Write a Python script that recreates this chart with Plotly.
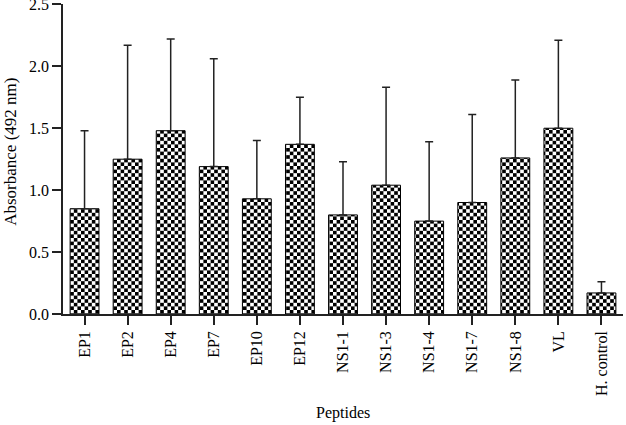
import plotly.graph_objects as go

categories = ["EP1", "EP2", "EP4", "EP7", "EP10", "EP12", "NS1-1", "NS1-3",
              "NS1-4", "NS1-7", "NS1-8", "VL", "H. control"]
means = [0.85, 1.25, 1.48, 1.19, 0.93, 1.37, 0.80, 1.04, 0.75, 0.90, 1.26, 1.50, 0.17]
err_tops = [1.48, 2.17, 2.22, 2.06, 1.40, 1.75, 1.23, 1.83, 1.39, 1.61, 1.89, 2.21, 0.26]
errors = [t - m for t, m in zip(err_tops, means)]
y_ticks = [0.0, 0.5, 1.0, 1.5, 2.0, 2.5]

font = "Liberation Serif, Times New Roman, serif"

fig = go.Figure(go.Bar(
    x=categories,
    y=means,
    marker=dict(
        color="white",
        line=dict(color="black", width=1),
        pattern=dict(shape=".", fgcolor="black", bgcolor="white", size=7, solidity=0.5),
    ),
    error_y=dict(type="data", array=errors, arrayminus=[0] * len(errors),
                 symmetric=False, color="#222", thickness=1.5, width=4),
))

fig.update_layout(
    width=626, height=425,
    margin=dict(l=63, r=3, t=4, b=111),
    plot_bgcolor="white", paper_bgcolor="white",
    bargap=0.33,
    showlegend=False,
    font=dict(family=font, size=16, color="black"),
    xaxis=dict(
        range=[-0.5, 12.5], showline=True, linecolor="#222", linewidth=1.5,
        ticks="outside", ticklen=9, tickcolor="#222", tickwidth=1.5,
        tickangle=-90, tickfont=dict(family=font, size=16), automargin=False,
        showgrid=False, zeroline=False,
    ),
    yaxis=dict(
        range=[0, 2.503], tickvals=y_ticks, tickformat=".1f",
        showline=True, linecolor="#222", linewidth=1.5,
        ticks="outside", ticklen=9, tickcolor="#222", tickwidth=1.5,
        tickfont=dict(family=font, size=16), automargin=False,
        ticklabeloverflow="allow",
        showgrid=False, zeroline=False,
    ),
    annotations=[
        dict(text="Peptides", xref="paper", yref="paper", x=0.5, y=-0.319,
             xanchor="center", yanchor="middle", showarrow=False,
             font=dict(family=font, size=16)),
        dict(text="Absorbance (492 nm)", xref="paper", yref="paper", x=-0.093, y=0.523,
             xanchor="center", yanchor="middle", showarrow=False, textangle=-90,
             font=dict(family=font, size=17)),
    ],
)

post = """
document.body.style.margin = '0';
document.body.style.padding = '0';
var gd = document.getElementById('{plot_id}');
function checker(){
  var ns = 'http://www.w3.org/2000/svg';
  gd.querySelectorAll('pattern').forEach(function(p){
    while (p.firstChild) p.removeChild(p.firstChild);
    var s = 3.6;
    p.setAttribute('width', 2*s); p.setAttribute('height', 2*s);
    function r(x, y, c){
      var e = document.createElementNS(ns, 'rect');
      e.setAttribute('x', x); e.setAttribute('y', y);
      e.setAttribute('width', (c === 'white') ? 2*s : s);
      e.setAttribute('height', (c === 'white') ? 2*s : s);
      e.setAttribute('fill', c); p.appendChild(e);
    }
    r(0, 0, 'white'); r(0, 0, 'black'); r(s, s, 'black');
  });
}
checker();
if (gd.on) gd.on('plotly_afterplot', checker);
"""

fig.write_html("out.html", post_script=post, config={"displayModeBar": False})
